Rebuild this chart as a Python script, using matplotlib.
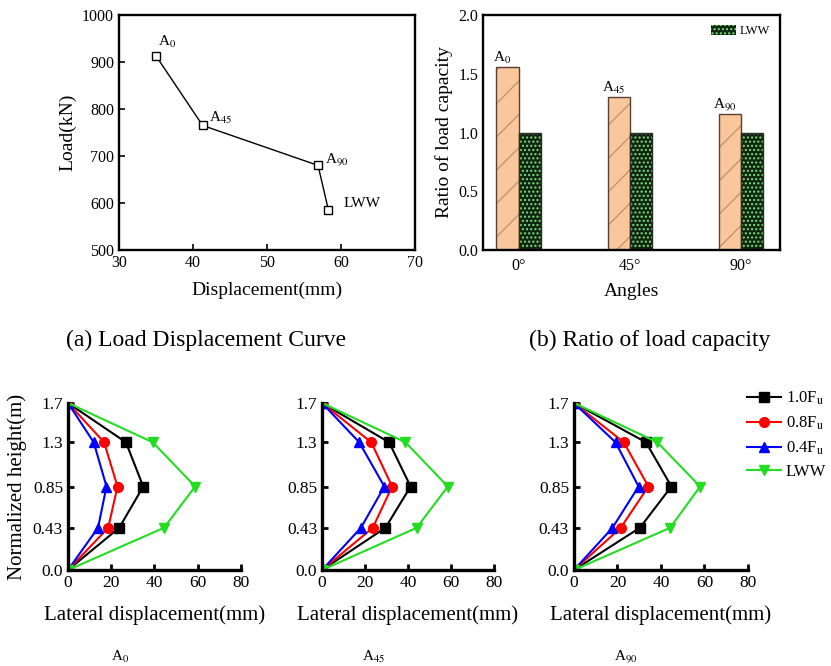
import matplotlib.pyplot as plt
import numpy as np

plt.rcParams['font.family'] = ['Liberation Serif', 'DejaVu Serif']
plt.rcParams['mathtext.fontset'] = 'stix'

# (a) load displacement
specimens = ['A$_0$', 'A$_{45}$', 'A$_{90}$', 'LWW']
disp = [35.0, 41.3, 56.9, 58.3]
load = [913, 765, 680, 585]

# (b) ratio of load capacity
angles = ['0°', '45°', '90°']
ratio_a = [1.56, 1.30, 1.16]
ratio_lww = [1.0, 1.0, 1.0]
bar_names = ['A$_0$', 'A$_{45}$', 'A$_{90}$']

# lateral displacement profiles
heights = [0.0, 0.43, 0.85, 1.3, 1.7]
height_labels = ['0.0', '0.43', '0.85', '1.3', '1.7']
series_names = ['1.0F$_\\mathrm{u}$', '0.8F$_\\mathrm{u}$', '0.4F$_\\mathrm{u}$', 'LWW']
lat_A0 = [
    [0, 23.7, 34.8, 26.8, 0],
    [0, 18.6, 22.9, 16.7, 0],
    [0, 13.9, 17.8, 11.9, 0],
    [0, 44.4, 58.8, 39.2, 0],
]
lat_A45 = [
    [0, 29.5, 41.2, 31.2, 0],
    [0, 23.6, 32.6, 22.9, 0],
    [0, 18.1, 29.0, 17.3, 0],
    [0, 44.0, 58.5, 38.8, 0],
]
lat_A90 = [
    [0, 30.3, 44.8, 33.1, 0],
    [0, 21.5, 34.2, 22.9, 0],
    [0, 17.7, 29.7, 19.1, 0],
    [0, 44.2, 58.0, 38.3, 0],
]
panel_titles = ['A$_0$', 'A$_{45}$', 'A$_{90}$']

fig = plt.figure(figsize=(8.31, 6.66), dpi=100)

# ---- (a)
ax1 = fig.add_axes([0.1432, 0.6246, 0.3562, 0.3529])
ax1.plot(disp, load, color='black', lw=1.0, marker='s', ms=6,
         mfc='white', mec='black', mew=1.0)
label_pos = [(35.3, 942), (42.2, 781), (57.8, 691), (60.4, 600)]
for name, (x, y) in zip(specimens, label_pos):
    ax1.text(x, y, name, fontsize=11, ha='left', va='center')
ax1.set_xlim(30, 70)
ax1.set_ylim(500, 1000)
ax1.set_xticks([30, 40, 50, 60, 70])
ax1.set_yticks([500, 600, 700, 800, 900, 1000])
ax1.set_xlabel('Displacement(mm)', fontsize=14, labelpad=8)
ax1.set_ylabel('Load(kN)', fontsize=14)
for s in ax1.spines.values():
    s.set_linewidth(1.7)
ax1.tick_params(direction='in', length=4, width=1.2, labelsize=11.5)

# ---- (b)
ax2 = fig.add_axes([0.5812, 0.6246, 0.3574, 0.3529])
xpos = np.arange(len(angles))
w = 0.2
ax2.bar(xpos - w / 2, ratio_a, w, color='#F9C79B', edgecolor='#c4966c',
        hatch='/', linewidth=0)
ax2.bar(xpos - w / 2, ratio_a, w, fill=False, edgecolor='#5a4030', linewidth=1.0)
ax2.bar(xpos + w / 2, ratio_lww, w, color='#0f260f', edgecolor='#7be07b',
        hatch='....', linewidth=0, label='LWW')
ax2.bar(xpos + w / 2, ratio_lww, w, fill=False, edgecolor='#2a2a2a', linewidth=1.0)
for x, r, name in zip(xpos, ratio_a, bar_names):
    ax2.text(x - w / 2 - 0.05, r + 0.01, name, fontsize=11, ha='center', va='bottom')
ax2.set_xlim(-0.32, 2.35)
ax2.set_ylim(0, 2.0)
ax2.set_xticks(xpos)
ax2.set_xticklabels(angles)
ax2.set_yticks([0.0, 0.5, 1.0, 1.5, 2.0])
ax2.set_xlabel('Angles', fontsize=14, labelpad=6)
ax2.set_ylabel('Ratio of load capacity', fontsize=14)
for s in ax2.spines.values():
    s.set_linewidth(1.7)
ax2.tick_params(direction='in', length=0, labelsize=11.5)
ax2.tick_params(axis='x', pad=6)
hs, ls = ax2.get_legend_handles_labels()
ax2.legend(hs[:1], ls[:1], loc='upper right', frameon=False, fontsize=9,
           handlelength=2.0, handleheight=0.9, handletextpad=0.3,
           borderaxespad=0.4)

fig.text(0.248, 0.489, '(a) Load Displacement Curve', fontsize=17, ha='center', va='center')
fig.text(0.782, 0.489, '(b) Ratio of load capacity', fontsize=17, ha='center', va='center')

# ---- lateral displacement panels
colors = ['black', 'red', 'blue', '#22dd22']
markers = ['s', 'o', '^', 'v']
lefts = [0.0818, 0.3875, 0.6907]
widths = [0.2082, 0.2070, 0.2094]
data_sets = [lat_A0, lat_A45, lat_A90]
for i, (lf, wd, data, title) in enumerate(zip(lefts, widths, data_sets, panel_titles)):
    ax = fig.add_axes([lf, 0.1441, wd, 0.2508])
    for vals, c, m, nm in zip(data, colors, markers, series_names):
        ax.plot(vals, heights, color=c, marker=m, ms=7, lw=1.5, label=nm)
    ax.set_xlim(0, 80)
    ax.set_ylim(0, 1.7)
    ax.set_xticks([0, 20, 40, 60, 80])
    ax.set_yticks(heights)
    ax.set_yticklabels(height_labels)
    ax.spines['top'].set_visible(False)
    ax.spines['right'].set_visible(False)
    ax.spines['left'].set_linewidth(2.4)
    ax.spines['bottom'].set_linewidth(2.4)
    ax.tick_params(direction='in', length=4, width=2.0, labelsize=12.5)
    ax.set_xlabel('Lateral displacement(mm)', fontsize=15, labelpad=10)
    ax.text(0.3, -0.52, title, transform=ax.transAxes, fontsize=11,
            ha='center', va='center')
    if i == 0:
        ax.set_ylabel('Normalized height(m)', fontsize=15)
    if i == 2:
        ax.legend(loc='upper left', bbox_to_anchor=(0.91, 1.17), frameon=False,
                  fontsize=12, handlelength=2.0, handletextpad=0.3,
                  labelspacing=0.45)

fig.savefig('out.png', dpi=100)
